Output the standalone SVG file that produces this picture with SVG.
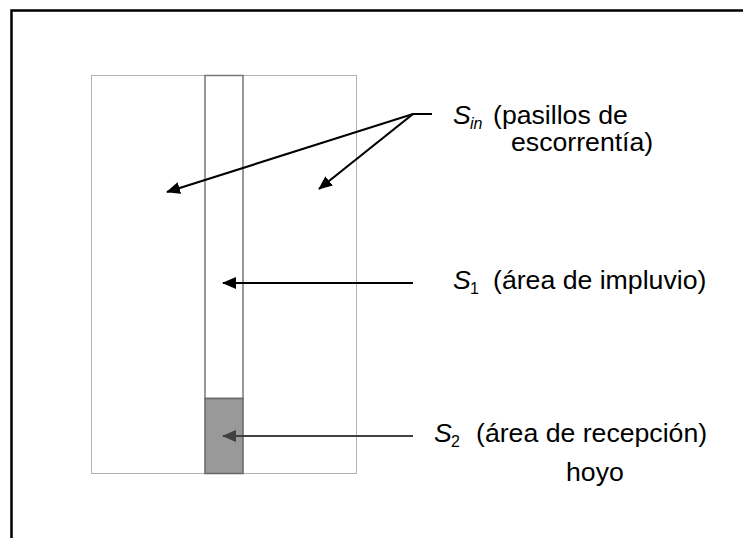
<svg xmlns="http://www.w3.org/2000/svg" width="743" height="538" viewBox="0 0 743 538">
<style>
text{font-family:"Liberation Sans",Arial,sans-serif;font-size:26.67px;fill:#000}
.it{font-style:italic}
.sub{font-size:16px}
.arr{stroke:#000;stroke-width:2.2;fill:none}
</style>
<defs>
<marker id="ah" markerWidth="14" markerHeight="12" refX="13" refY="6" orient="auto" markerUnits="userSpaceOnUse">
<path d="M0,0 L14,6 L0,12 Z" fill="#000"/>
</marker>
<marker id="ah2" markerWidth="14" markerHeight="12" refX="13" refY="6" orient="auto" markerUnits="userSpaceOnUse">
<path d="M0,0 L14,6 L0,12 Z" fill="#404040"/>
</marker>
</defs>
<rect width="743" height="538" fill="#fff"/>
<g id="frame">
<path d="M11.5,538 V10.5 H743" stroke="#000" stroke-width="2.5" fill="none"/>
</g>
<g id="field">
<rect x="91.5" y="75.5" width="265" height="398" fill="none" stroke="#666" stroke-width="1" stroke-dasharray="1,1"/>
</g>
<g id="strip">
<rect x="205" y="75.5" width="38" height="323" fill="#fff" stroke="#777" stroke-width="1.5"/>
</g>
<g id="hoyo">
<rect x="205" y="398.5" width="38" height="75" fill="#999" stroke="#666" stroke-width="1.5"/>
</g>
<g id="connectors">
<path class="arr" d="M432,114 H413 L167,192" marker-end="url(#ah)"/>
<path class="arr" d="M413,114 L319,189" marker-end="url(#ah)"/>
<path class="arr" d="M413,283 H223" marker-end="url(#ah)"/>
<path d="M413,436 H223" stroke="#404040" stroke-width="2.2" fill="none" marker-end="url(#ah2)"/>
</g>
<g id="label-sin">
<text x="453" y="124" class="it">S</text>
<text x="470" y="129" class="it sub">in</text>
<text x="493" y="124">(pasillos de</text>
<text x="511" y="151">escorrentía)</text>
</g>
<g id="label-s1">
<text x="453" y="289" class="it">S</text>
<text x="470" y="294" class="sub">1</text>
<text x="493" y="289">(área de impluvio)</text>
</g>
<g id="label-s2">
<text x="434" y="442" class="it">S</text>
<text x="451" y="447" class="sub">2</text>
<text x="476" y="442">(área de recepción)</text>
</g>
<g id="label-hoyo">
<text x="566" y="481">hoyo</text>
</g>
</svg>
